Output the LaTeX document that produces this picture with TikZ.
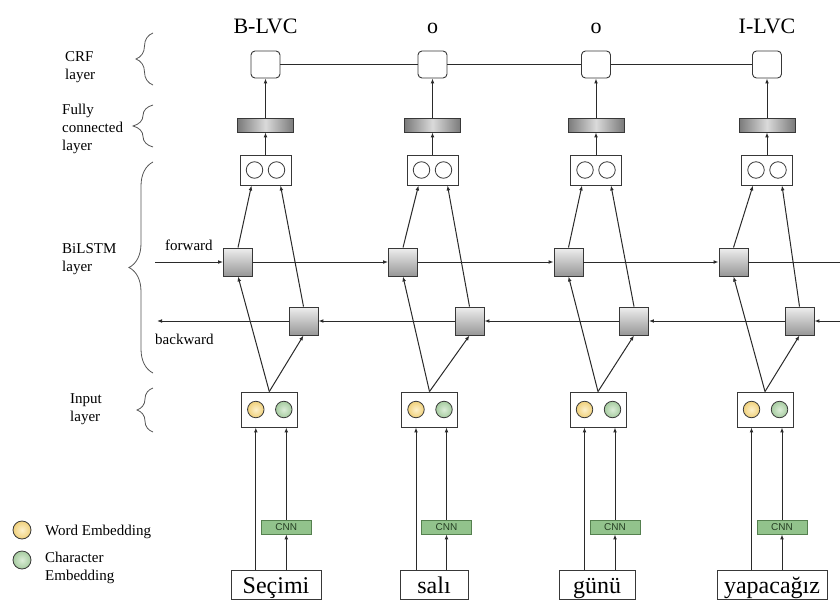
\documentclass[tikz,border=0pt]{standalone}
\usepackage{fontspec}
\setmainfont{Liberation Serif}
\setsansfont{Liberation Sans}
\usetikzlibrary{arrows.meta,decorations.pathreplacing}

\definecolor{ink}{HTML}{2A2A2A}
\definecolor{boxline}{HTML}{383838}
\definecolor{fcdark}{HTML}{7A7A7A}
\definecolor{fclight}{HTML}{DADADA}
\definecolor{lstmtop}{HTML}{EEEEEE}
\definecolor{lstmbot}{HTML}{979797}
\definecolor{yelin}{HTML}{FDF1CC}
\definecolor{yelout}{HTML}{F0D07A}
\definecolor{grnin}{HTML}{DCEDD8}
\definecolor{grnout}{HTML}{A6CCA0}
\definecolor{cnnfill}{HTML}{92C38C}
\definecolor{cnnline}{HTML}{55804F}
\definecolor{cnntext}{HTML}{263F24}
\definecolor{bracecol}{HTML}{555555}

\begin{document}
\begin{tikzpicture}[x=1pt,y=-1pt,
  line/.style={draw=ink, line width=1pt},
  arr/.style={line, -{Latex[length=5pt,width=3.8pt]}},
  crfbox/.style={draw=boxline, line width=0.9pt, fill=white, rounded corners=4pt,
    minimum width=29pt, minimum height=27pt, inner sep=0pt},
  fcbar/.style={draw=boxline, line width=0.8pt, left color=fcdark, right color=fcdark,
    middle color=fclight, minimum width=56pt, minimum height=14pt, inner sep=0pt},
  outbox/.style={draw=boxline, line width=0.9pt, fill=white,
    minimum width=51pt, minimum height=30pt, inner sep=0pt},
  lstm/.style={draw=boxline, line width=0.9pt, top color=lstmtop, bottom color=lstmbot,
    minimum width=29pt, minimum height=28pt, inner sep=0pt},
  inbox/.style={draw=boxline, line width=0.9pt, fill=white,
    minimum width=56pt, minimum height=35pt, inner sep=0pt},
  unit/.style={circle, draw=boxline, line width=0.8pt, minimum size=16.5pt, inner sep=0pt},
  hollow/.style={unit, fill=white},
  wemb/.style={unit, inner color=yelin, outer color=yelout},
  cemb/.style={unit, inner color=grnin, outer color=grnout},
  cnnbox/.style={draw=cnnline, line width=0.8pt, fill=cnnfill, minimum width=50pt,
    minimum height=14pt, inner sep=0pt, text=cnntext,
    font=\sffamily\fontsize{10}{10}\selectfont},
  wordbox/.style={draw=boxline, line width=0.9pt, fill=white, minimum height=29pt,
    inner sep=0pt, font=\fontsize{24}{28}\selectfont, text height=19pt, text depth=1pt},
  tagtext/.style={anchor=base, inner sep=0pt, font=\fontsize{22}{26}\selectfont},
  sidetext/.style={anchor=north west, align=left, inner sep=0pt,
    font=\fontsize{15}{18}\selectfont},
  brace/.style={draw=bracecol, line width=0.8pt, decorate},
]
\useasboundingbox (0,0) rectangle (840,602);

% one column per token: tag, CRF, dense, BiLSTM cells, input, CNN, word
\foreach \i/\cx/\fx/\bx/\ix/\wx/\ww/\word/\tag in {
  1/265.5/238/303.5/269.3/276/90/{Seçimi}/{B-LVC},
  2/432.5/403/469.5/429.5/434/68/{salı}/{o},
  3/596/568.5/634/598/597/76/{günü}/{o},
  4/767/733.5/799.5/765/772/110/{yapacağız}/{I-LVC}}{
  \node[tagtext] (tag\i) at (\cx,33.5) {\tag};
  \node[crfbox] (crf\i) at (\cx,64.5) {};
  \node[fcbar] (fc\i) at (\cx,125) {};
  \node[outbox] (out\i) at (\cx,170) {};
  \node[hollow] (ol\i) at ([xshift=-11pt]out\i.center) {};
  \node[hollow] (or\i) at ([xshift=11pt]out\i.center) {};
  \node[lstm] (fw\i) at (\fx,262) {};
  \node[lstm] (bw\i) at (\bx,321) {};
  \node[inbox] (in\i) at (\ix,409.5) {};
  \node[wemb] (wv\i) at ([xshift=-13.5pt]in\i.center) {};
  \node[cemb] (cv\i) at ([xshift=14.5pt]in\i.center) {};
  \node[cnnbox] (cnn\i) at ([xshift=17pt]\ix,527) {CNN};
  \node[wordbox, minimum width=\ww pt] (word\i) at (\wx,584.5) {\word};

  \draw[arr] (fc\i) -- (crf\i);
  \draw[arr] (out\i) -- (fc\i);
  \draw[arr] (fw\i.north) -- ([xshift=-14pt]out\i.south);
  \draw[arr] (bw\i.north) -- ([xshift=15pt]out\i.south);
  \draw[arr] (in\i.north) -- (fw\i.south);
  \draw[arr] (in\i.north) -- (bw\i.south);
  \draw[arr] (word\i.north -| wv\i) -- (in\i.south -| wv\i);
  \draw[arr] (word\i.north -| cnn\i) -- (cnn\i.south);
  \draw[arr] (cnn\i.north) -- (in\i.south -| cnn\i);
}

% CRF chain
\draw[line] (crf1) -- (crf2);
\draw[line] (crf2) -- (crf3);
\draw[line] (crf3) -- (crf4);

% forward and backward recurrences
\coordinate (fin) at (155,262);
\coordinate (fout) at (840,262);
\coordinate (bin) at (840,321);
\coordinate (bout) at (157,321);
\draw[arr] (fin) -- (fw1);
\draw[arr] (fw1) -- (fw2);
\draw[arr] (fw2) -- (fw3);
\draw[arr] (fw3) -- (fw4);
\draw[line] (fw4) -- (fout);
\draw[arr] (bin) -- (bw4);
\draw[arr] (bw4) -- (bw3);
\draw[arr] (bw3) -- (bw2);
\draw[arr] (bw2) -- (bw1);
\draw[arr] (bw1) -- (bout);

\node[anchor=base west, inner sep=0pt, font=\fontsize{15}{18}\selectfont] (fwdlab) at (165,250) {forward};
\node[anchor=base west, inner sep=0pt, font=\fontsize{15}{18}\selectfont] (bwdlab) at (155,344) {backward};

% layer names and braces
\node[sidetext] (crflab) at (65,51) {CRF\\layer};
\node[sidetext] (fclab) at (62,104) {Fully\\connected\\layer};
\node[sidetext] (bilab) at (62,243) {BiLSTM\\layer};
\node[sidetext] (inlab) at (70,393) {Input\\layer};

\draw[brace, decoration={brace, amplitude=17pt}] (153,85) -- (153,33);
\draw[brace, decoration={brace, amplitude=20pt}] (153,147) -- (153,105);
\draw[brace, decoration={brace, amplitude=24pt}] (153,373) -- (153,162);
\draw[brace, decoration={brace, amplitude=16pt}] (153,432) -- (153,388);

% legend
\node[wemb, minimum size=18pt] (legw) at (22,530) {};
\node[cemb, minimum size=18pt] (legc) at (22,560) {};
\node[anchor=base west, inner sep=0pt, font=\fontsize{15}{18}\selectfont] (legwt) at (45,535) {Word Embedding};
\node[sidetext] (legct) at (45,552) {Character\\Embedding};
\end{tikzpicture}
\end{document}
